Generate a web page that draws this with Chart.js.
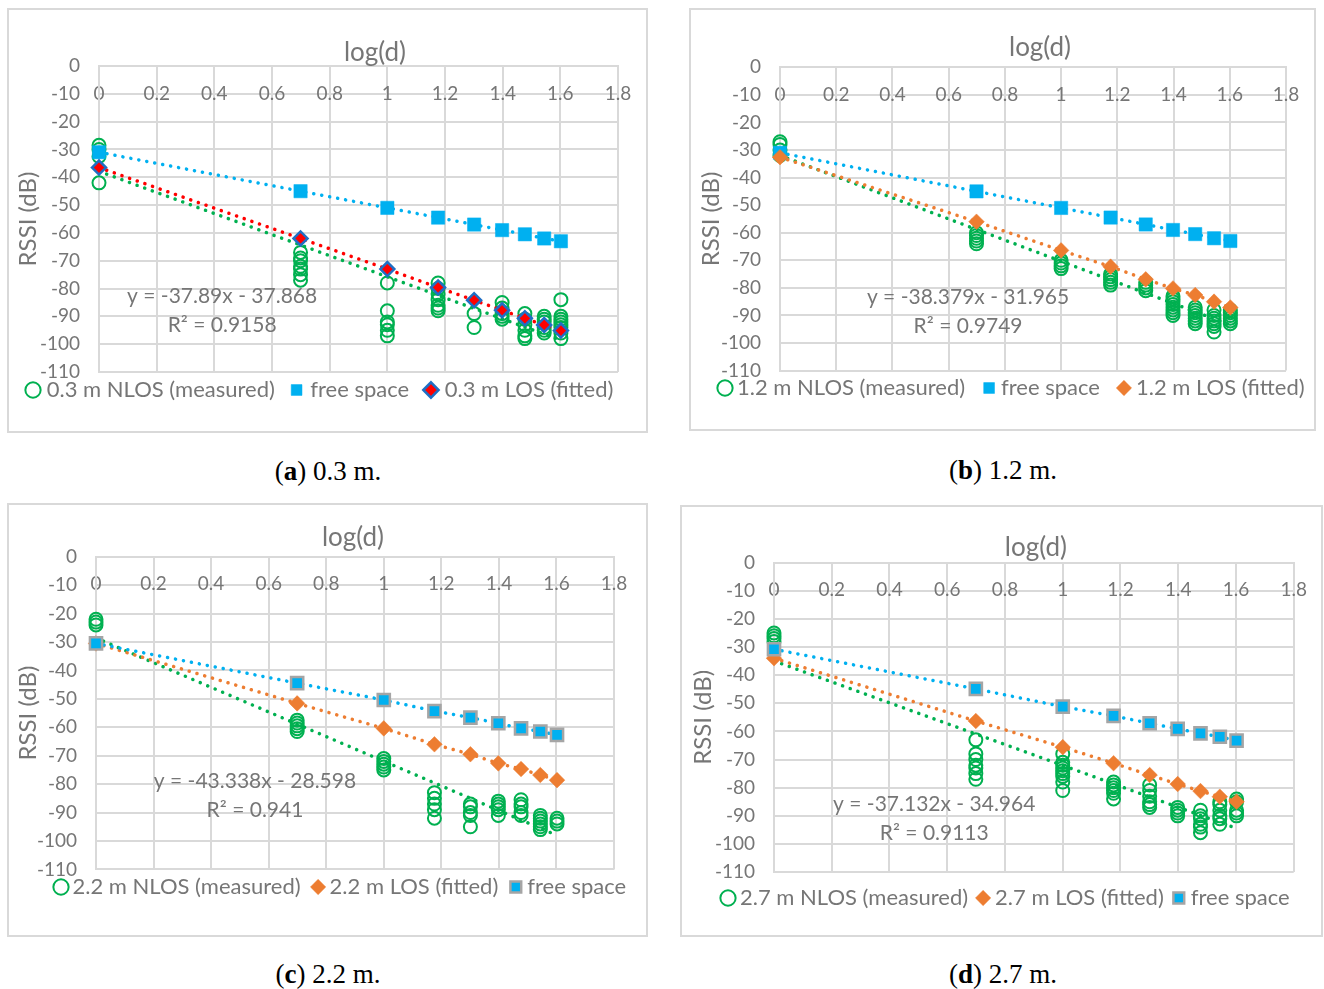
<!DOCTYPE html>
<html><head><meta charset="utf-8">
<script src="https://cdn.jsdelivr.net/npm/chart.js@4.4.1/dist/chart.umd.min.js"></script>
<style>
html,body{margin:0;padding:0;background:#fff;}
body{width:1324px;height:989px;position:relative;overflow:hidden;}
.frame{position:absolute;border:2px solid #d9d9d9;box-sizing:border-box;}
canvas{position:absolute;}
.cap{position:absolute;font-family:"Liberation Serif","Times New Roman",serif;font-size:27px;color:#000;transform:translate(-50%,-50%);white-space:nowrap;}
</style></head><body>
<div class="frame" style="left:7px;top:8px;width:641px;height:425px"></div>
<div class="frame" style="left:689px;top:8px;width:627px;height:423px"></div>
<div class="frame" style="left:7px;top:503px;width:641px;height:434px"></div>
<div class="frame" style="left:680px;top:505px;width:643px;height:432px"></div>
<canvas id="cv-a"></canvas><canvas id="cv-b"></canvas><canvas id="cv-c"></canvas><canvas id="cv-d"></canvas>
<div class="cap" style="left:328px;top:471px">(<b>a</b>) 0.3 m.</div>
<div class="cap" style="left:1003px;top:470px">(<b>b</b>) 1.2 m.</div>
<div class="cap" style="left:328px;top:974px">(<b>c</b>) 2.2 m.</div>
<div class="cap" style="left:1003px;top:974px">(<b>d</b>) 2.7 m.</div>
<script>
// ---------- data ----------
const logD = [0, 0.699, 1, 1.176, 1.301, 1.398, 1.477, 1.544, 1.602];
const xTickValues = [0, 0.2, 0.4, 0.6, 0.8, 1, 1.2, 1.4, 1.6, 1.8];
const yTickValues = [0, -10, -20, -30, -40, -50, -60, -70, -80, -90, -100, -110];
const trendX = [0, 1.602];

const freeA = [-31, -45, -51, -54.5, -57, -59, -60.5, -62, -63];
const losA = [-36.5, -62, -73, -79.6, -84.2, -87.8, -90.7, -93.1, -95.1];
const nlosA = [[-28.5,-30,-32.5,-42],[-67,-69,-70,-72,-73,-75,-77],[-78,-88,-92,-93,-95,-97],[-78,-80,-82,-84,-86,-87,-88],[-89,-94],[-85,-87,-89,-90,-91],[-89,-91,-93,-95,-97,-98],[-90,-91,-92,-94,-95,-96],[-84,-90,-91,-92,-93,-94,-96,-98]];
const trendA = [-37.87, -98.57];

const freeB = [-31, -45, -51, -54.5, -57, -59, -60.5, -62, -63];
const losB = [-32.6, -56, -66.4, -72.3, -76.9, -80.2, -82.6, -85, -87.1];
const nlosB = [[-27,-28,-30,-32],[-60,-61,-62,-63,-64],[-70,-71,-72,-73],[-75,-76,-77,-78,-79],[-78,-79,-80,-81],[-83,-84,-85,-86,-87,-88,-89,-90],[-87,-88,-89,-90,-91,-92,-93],[-88,-90,-91,-92,-93,-94,-96],[-88,-89,-90,-91,-92,-93]];
const trendB = [-31.97, -93.45];

const freeC = [-30.5, -44.5, -50.4, -54.3, -56.6, -58.6, -60.4, -61.5, -62.7];
const losC = [-30.5, -51.6, -60.4, -66, -69.5, -72.7, -74.7, -76.8, -78.6];
const nlosC = [[-22,-23,-24],[-57.5,-58.5,-59.5,-60.5,-61.5],[-71,-72,-73,-74,-75],[-83,-85,-87,-89,-92],[-87,-88,-90,-91,-95],[-86,-87,-88,-89,-91],[-85.5,-87,-88,-90,-91],[-91,-92,-93,-94,-95,-96],[-92,-93,-94]];
const trendC = [-28.6, -98.03];

const freeD = [-30.8, -44.9, -51.2, -54.5, -57.1, -59.1, -60.7, -61.9, -63.3];
const losD = [-34, -56.3, -65.6, -71.3, -75.5, -78.7, -81.2, -83.2, -85];
const nlosD = [[-25,-26,-27,-28],[-63,-68,-70,-72,-73,-75,-77],[-68,-71,-72,-73,-74,-75,-76,-78,-81],[-78,-79,-80,-81,-82,-84],[-79,-81,-83,-85,-86,-87],[-87,-88,-89,-90],[-88,-90,-91,-93,-94,-96],[-85,-86,-88,-90,-91,-93],[-84,-85,-88,-89,-90]];
const trendD = [-34.96, -94.45];

// ---------- styles ----------
const F = 'Lato';
const TXT = '#767676';
const GRID = '#d9d9d9';
const GREEN = '#00B050', BLUE = '#00B0F0', ORANGE = '#ED7D31', RED = '#FF0000', DKBLUE = '#1F6FC5', GRAY = '#A5A5A5';
const LEG_FS = 22, TICK_FS = 19, EQ_FS = 21, XT_FS = 26, YT_FS = 24;

// geometry (absolute page pixels)
const panels = [
  {id:'a', frame:[7,8,641,425], area:[99,66,618,372], legText:390, legMarkX:33, legBW:5.5, legPad:19,
   yTitleX:28, logd:[0.957,13], eq:[0.427,-82.7,-93.1], eqText:['y = -37.89x - 37.868','R² = 0.9158'],
   labels:{nlos:'0.3 m NLOS (measured)', free:'free space', los:'0.3 m LOS (fitted)'},
   free:freeA, los:losA, nlos:nlosA, trend:trendA, style:'a'},
  {id:'b', frame:[689,8,627,423], area:[780,67.3,1286,370.6], legText:388, legMarkX:725, legBW:2, legPad:23,
   yTitleX:711, logd:[0.925,20], eq:[0.669,-83.3,-93.8], eqText:['y = -38.379x - 31.965','R² = 0.9749'],
   labels:{nlos:'1.2 m NLOS (measured)', free:'free space', los:'1.2 m LOS (fitted)'},
   free:freeB, los:losB, nlos:nlosB, trend:trendB, style:'b'},
  {id:'c', frame:[7,503,641,434], area:[96,556.7,614,869.4], legText:887, legMarkX:61, legBW:1, legPad:17,
   yTitleX:28, logd:[0.893,19], eq:[0.5525,-78.9,-89.1], eqText:['y = -43.338x - 28.598','R² = 0.941'],
   labels:{nlos:'2.2 m NLOS (measured)', los:'2.2 m LOS (fitted)', free:'free space'},
   free:freeC, los:losC, nlos:nlosC, trend:trendC, style:'c'},
  {id:'d', frame:[680,505,643,432], area:[774,562.6,1296,872.1], legText:898, legMarkX:728, legBW:2, legPad:14,
   yTitleX:703, logd:[0.907,15], eq:[0.555,-85.8,-96.1], eqText:['y = -37.132x - 34.964','R² = 0.9113'],
   labels:{nlos:'2.7 m NLOS (measured)', los:'2.7 m LOS (fitted)', free:'free space'},
   free:freeD, los:losD, nlos:nlosD, trend:trendD, style:'c'}
];

const annotPlugin = {
  id: 'annot',
  afterDatasetsDraw(chart, args, opts) {
    const {ctx, chartArea} = chart;
    const xs = chart.scales.x, ys = chart.scales.y;
    ctx.save();
    ctx.fillStyle = TXT;
    ctx.textAlign = 'center';
    ctx.textBaseline = 'middle';
    opts.items.forEach(it => {
      ctx.font = it.size + 'px ' + F;
      const px = xs.getPixelForValue(it.x);
      const py = (it.y !== undefined) ? ys.getPixelForValue(it.y) : chartArea.top - it.above;
      ctx.fillText(it.text, px, py);
    });
    ctx.restore();
  }
};

const measureCtx = document.createElement('canvas').getContext('2d');

function buildChart(p) {
  const cv = document.getElementById('cv-' + p.id);
  const [fl, ft, fw, fh] = p.frame;
  cv.width = fw; cv.height = fh;
  cv.style.left = fl + 'px'; cv.style.top = ft + 'px';
  cv.style.width = fw + 'px'; cv.style.height = fh + 'px';
  const [al, at, ar, ab] = p.area;
  const bw = p.legBW, pad = p.legPad;
  const gray = p.style === 'c';
  const legendOrder = gray ? [p.labels.nlos, p.labels.los, p.labels.free] : [p.labels.nlos, p.labels.free, p.labels.los];

  // horizontal legend placement: centred row inside [L, W-R]
  measureCtx.font = LEG_FS + 'px ' + F;
  const lineW = legendOrder.reduce((s, t) => s + bw + LEG_FS / 2 + measureCtx.measureText(t).width + pad, 0);
  const S = (p.legMarkX - fl) - bw / 2;      // wanted start of first legend item (canvas px)
  const L = 0;
  const R = L + pad + fw - lineW - 2 * S;    // may be negative
  const rightW = (fl + fw - ar) - R;         // dummy right axis keeps the plot's right edge

  const padTop = at - ft;
  // legend vertical placement via (empty) legend title height
  const wantOff = p.legText - ab;
  const titleH = wantOff - pad - LEG_FS / 2;
  const titlePadTop = titleH - 1.2;
  const legendH = titleH + LEG_FS + pad + 10;
  const padBottom = fh - (ab - ft) - legendH;
  const yW = al - fl - L;
  const yTitlePad = (p.yTitleX - fl) - L - YT_FS * 1.2 / 2;

  const nlosPts = [];
  p.nlos.forEach((col, i) => col.forEach(v => nlosPts.push({x: logD[i], y: v})));
  const dotted = {borderWidth: 3.5, borderDash: [0.1, 8], borderCapStyle: 'round'};

  const nlosDs = {label: p.labels.nlos, data: nlosPts, showLine: false, pointStyle: 'circle', pointRadius: 6.5,
    pointBorderWidth: 2, pointBorderColor: GREEN, pointBackgroundColor: 'rgba(255,255,255,0)', order: 4, clip: false};
  const trendDs = {label: '', data: trendX.map((x, i) => ({x, y: p.trend[i]})), showLine: true, borderColor: GREEN,
    ...dotted, pointRadius: 0, order: 3, clip: false};
  const freeDs = {label: p.labels.free, data: logD.map((x, i) => ({x, y: p.free[i]})), showLine: true, borderColor: BLUE,
    ...dotted, pointStyle: 'rect', pointRadius: gray ? 8.6 : 9.4, pointBackgroundColor: BLUE,
    pointBorderColor: gray ? GRAY : BLUE, pointBorderWidth: gray ? 2.5 : 0.5, order: gray ? 1 : 2, clip: false};
  const losColor = p.style === 'a' ? RED : ORANGE;
  const losDs = {label: p.labels.los, data: logD.map((x, i) => ({x, y: p.los[i]})), showLine: true, borderColor: losColor,
    ...dotted, pointStyle: 'rectRot', pointRadius: p.style === 'a' ? 7 : 7.8, pointBackgroundColor: losColor,
    pointBorderColor: p.style === 'a' ? DKBLUE : losColor, pointBorderWidth: p.style === 'a' ? 2.5 : 0.5,
    order: gray ? 2 : 1, clip: false};

  const datasets = gray ? [nlosDs, losDs, freeDs, trendDs] : [nlosDs, freeDs, losDs, trendDs];

  new Chart(cv, {
    type: 'scatter',
    data: {datasets},
    plugins: [annotPlugin],
    options: {
      responsive: false, animation: false, events: [], devicePixelRatio: 1,
      layout: {padding: {left: L, top: padTop, right: R, bottom: padBottom}},
      scales: {
        x: {type: 'linear', min: 0, max: 1.8, position: {y: 0},
          afterBuildTicks: s => { s.ticks = xTickValues.map(v => ({value: v})); },
          ticks: {autoSkip: false, maxRotation: 0, padding: 16, color: TXT, font: {family: F, size: TICK_FS},
            callback: v => String(Math.round(v * 10) / 10)},
          grid: {color: GRID, lineWidth: 2, drawTicks: false},
          border: {color: GRID, width: 2}},
        y: {type: 'linear', min: -110, max: 0, position: 'left',
          afterBuildTicks: s => { s.ticks = yTickValues.map(v => ({value: v})); },
          afterFit: s => { s.width = yW; },
          ticks: {padding: 19, color: TXT, font: {family: F, size: TICK_FS}},
          grid: {color: GRID, lineWidth: 2, drawTicks: false},
          border: {color: GRID, width: 2},
          title: {display: true, text: 'RSSI (dB)', color: TXT, font: {family: F, size: YT_FS},
            padding: {top: yTitlePad, bottom: 0}}},
        yR: {type: 'linear', position: 'right', display: true,
          grid: {display: false}, border: {display: false}, ticks: {display: false},
          afterFit: s => { s.width = rightW; }}
      },
      plugins: {
        legend: {position: 'bottom', align: 'center',
          title: {display: true, text: '', font: {size: 1}, padding: {top: titlePadTop, bottom: 0}},
          labels: {usePointStyle: true, boxWidth: bw, boxHeight: 10.8, padding: pad, color: TXT,
            font: {family: F, size: LEG_FS},
            filter: it => it.text !== '',
            sort: (a, b) => a.datasetIndex - b.datasetIndex}},
        tooltip: {enabled: false},
        annot: {items: [
          {text: 'log(d)', x: p.logd[0], above: p.logd[1], size: XT_FS},
          {text: p.eqText[0], x: p.eq[0], y: p.eq[1], size: EQ_FS},
          {text: p.eqText[1], x: p.eq[0], y: p.eq[2], size: EQ_FS}
        ]}
      }
    }
  });
}
panels.forEach(buildChart);
</script>
</body></html>
